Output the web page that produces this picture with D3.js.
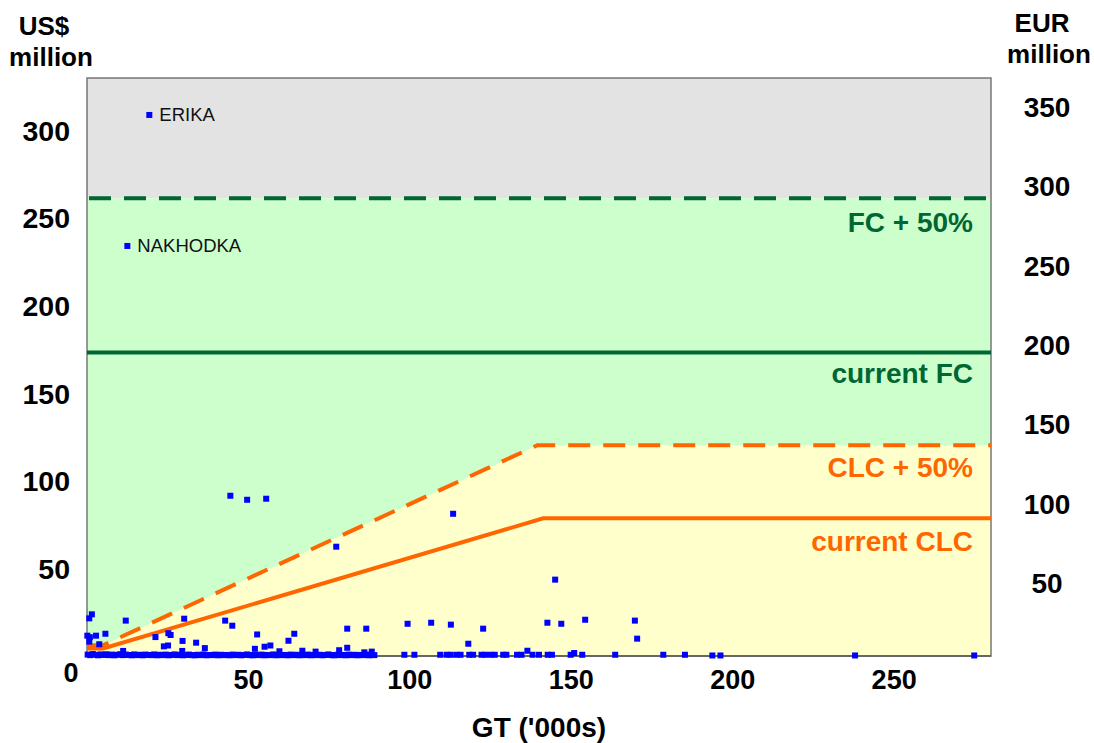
<!DOCTYPE html>
<html>
<head>
<meta charset="utf-8">
<script src="https://cdn.jsdelivr.net/npm/d3@7"></script>
<style>
  html, body { margin: 0; padding: 0; background: #ffffff; }
  svg text { font-family: "Liberation Sans", Arial, sans-serif; }
</style>
</head>
<body>
<svg id="chart" width="1094" height="743"></svg>
<script>
// ---------- DATA ----------
const xTicks = [50, 100, 150, 200, 250];
const usdTicks = [50, 100, 150, 200, 250, 300];
const eurTicks = [50, 100, 150, 200, 250, 300, 350];

// Limits (US$ million)
const fcCurrent = 173.3;
const fcPlus50 = 261.3;
// CLC limit curves: [GT '000s, US$ million]
const clcCurrent = [[0, 4.3], [5, 4.3], [141.3, 78.6], [280, 78.6]];
const clcPlus50 = [[0, 6.2], [5, 6.2], [139.5, 120.3], [280, 120.3]];

// Named incidents [GT '000s, US$ million, name]
const namedSpills = [[19.3, 308.9, "ERIKA"], [12.5, 234.1, "NAKHODKA"]];

// Other incidents [GT '000s, US$ million]
const otherSpills = [
  [0.7, 21.5], [1.5, 23.8], [12.0, 20.2], [30.1, 21.3], [42.8, 20.2], [45.0, 17.3],
  [0.1, 11.6], [0.9, 10.7], [2.8, 11.6], [5.7, 12.7], [0.7, 8.2], [3.8, 6.7],
  [21.2, 10.8], [25.2, 13.0], [25.9, 12.0], [23.8, 5.5], [25.1, 6.0], [29.6, 8.6],
  [33.8, 7.6], [36.5, 4.5], [11.2, 2.9], [29.5, 2.9], [52.7, 12.3], [52.0, 4.1],
  [55.0, 5.3], [56.8, 6.0], [62.4, 8.7], [64.2, 12.7], [80.6, 15.6], [86.5, 15.6],
  [80.6, 4.7], [99.3, 18.4], [106.6, 19.0], [112.7, 17.9], [122.7, 15.6], [142.6, 19.0],
  [146.9, 18.4], [154.3, 20.7], [169.7, 20.2], [170.4, 9.9], [118.1, 7.0],
  [44.4, 91.5], [49.6, 89.2], [55.5, 89.8], [77.2, 62.4], [113.4, 81.2], [145.0, 43.6],
  [66.7, 3.0], [70.8, 2.5], [78.1, 3.3], [85.9, 2.1], [88.2, 2.5], [59.6, 2.7],
  [136.4, 3.0], [150.9, 1.7],
  [98.3, 0.7], [101.4, 0.7], [109.4, 0.7], [111.4, 0.7], [112.6, 0.7], [114.4, 0.7],
  [115.7, 0.7], [118.4, 0.7], [119.6, 0.7], [122.2, 0.7], [123.3, 0.7], [125.0, 0.7],
  [126.3, 0.7], [128.9, 0.7], [129.9, 0.7], [133.2, 0.7], [134.6, 0.7], [138.0, 0.7],
  [140.0, 0.7], [142.7, 0.7], [144.0, 0.7], [149.8, 0.7], [153.4, 0.7], [163.6, 0.7],
  [178.5, 0.7], [185.2, 0.7], [193.7, 0.3], [196.2, 0.3], [237.9, 0.3], [274.8, 0.3]
];

// Dense cluster of small incidents along the bottom [GT '000s, US$ million]
const smallSpills = [[0.2,0.8],[1.0,0.5],[1.8,1.1],[2.6,0.7],[3.4,0.4],[4.3,0.9],[5.1,0.6],[6.0,1.0],[6.8,0.5],[7.7,0.8],[8.5,0.4],[9.4,0.7],[10.3,1.0],[11.1,0.5],[12.0,0.8],[12.9,0.6],[13.8,0.4],[14.6,0.9],[15.5,0.5],[16.4,0.7],[17.3,0.4],[18.1,0.8],[19.0,0.6],[19.9,0.5],[20.8,0.9],[21.7,0.4],[22.6,0.7],[23.5,0.5],[24.4,0.8],[25.3,0.4],[26.2,0.6],[27.1,0.9],[28.0,0.5],[28.9,0.7],[29.8,0.4],[30.7,0.6],[31.6,0.8],[32.5,0.5],[33.4,0.4],[34.3,0.7],[35.2,0.5],[36.1,0.9],[37.0,0.4],[37.9,0.6],[38.8,0.5],[39.7,0.8],[40.6,0.4],[41.5,0.7],[42.4,0.5],[43.3,0.6],[44.2,0.4],[45.1,0.8],[46.0,0.5],[46.9,0.7],[47.8,0.4],[48.7,0.6],[49.6,0.9],[50.5,0.5],[51.4,0.4],[52.3,0.7],[53.2,0.5],[54.1,0.8],[55.0,0.4],[55.9,0.6],[56.8,0.5],[57.7,0.9],[58.6,0.4],[59.5,0.7],[60.4,0.5],[61.3,0.6],[62.2,0.4],[63.1,0.8],[64.0,0.5],[64.9,0.7],[65.8,0.4],[66.7,0.6],[67.6,0.5],[68.5,0.8],[69.4,0.4],[70.3,0.6],[71.2,0.5],[72.1,0.7],[73.0,0.4],[73.9,0.6],[74.8,0.9],[75.7,0.5],[76.6,0.4],[77.5,0.7],[78.4,0.5],[79.3,0.6],[80.2,0.4],[81.1,0.8],[82.0,0.5],[82.9,0.7],[83.8,0.4],[84.7,0.6],[85.6,0.5],[86.5,0.8],[87.4,0.4],[88.3,0.6],[89.0,0.5]];

// ---------- LAYOUT ----------
const svg = d3.select("#chart");
const plot = { left: 87, right: 991, top: 78, bottom: 656 };
const x = d3.scaleLinear().domain([0, 280]).range([plot.left, plot.right]);
const y = d3.scaleLinear().domain([0, 330]).range([plot.bottom, plot.top]);
const yEur = d3.scaleLinear().domain([50, 350]).range([583, 107]);

const GRAY = "#e3e3e3", LGREEN = "#ccffcc", LYELLOW = "#ffffcc";
const DGREEN = "#006633", ORANGE = "#ff6600", BLUE = "#0000ff";
const W = plot.right - plot.left;

// backgrounds
svg.append("rect").attr("x", plot.left).attr("y", plot.top)
  .attr("width", W).attr("height", y(fcPlus50) - plot.top).attr("fill", GRAY);
svg.append("rect").attr("x", plot.left).attr("y", y(fcPlus50))
  .attr("width", W).attr("height", plot.bottom - y(fcPlus50)).attr("fill", LGREEN);
const area = d3.area().x(d => x(d[0])).y0(y(0)).y1(d => y(d[1]));
svg.append("path").datum(clcPlus50).attr("d", area).attr("fill", LYELLOW);

// frame
svg.append("rect").attr("x", plot.left).attr("y", plot.top)
  .attr("width", W).attr("height", plot.bottom - plot.top)
  .attr("fill", "none").attr("stroke", "#777").attr("stroke-width", 1.5);
svg.append("line").attr("x1", plot.left).attr("x2", plot.right)
  .attr("y1", plot.bottom).attr("y2", plot.bottom)
  .attr("stroke", "#666").attr("stroke-width", 2);

// limit lines
const line = d3.line().x(d => x(d[0])).y(d => y(d[1]));
svg.append("line").attr("x1", plot.left + 2).attr("x2", plot.right)
  .attr("y1", y(fcPlus50)).attr("y2", y(fcPlus50))
  .attr("stroke", DGREEN).attr("stroke-width", 4).attr("stroke-dasharray", "22,13");
svg.append("line").attr("x1", plot.left).attr("x2", plot.right)
  .attr("y1", y(fcCurrent)).attr("y2", y(fcCurrent))
  .attr("stroke", DGREEN).attr("stroke-width", 4);
svg.append("path").datum(clcPlus50).attr("d", line).attr("fill", "none")
  .attr("stroke", ORANGE).attr("stroke-width", 4).attr("stroke-dasharray", "22,13");
svg.append("path").datum(clcCurrent).attr("d", line).attr("fill", "none")
  .attr("stroke", ORANGE).attr("stroke-width", 4);

// line labels
const lineLabels = [
  ["FC + 50%", fcPlus50, DGREEN, 34],
  ["current FC", fcCurrent, DGREEN, 31],
  ["CLC + 50%", clcPlus50[3][1], ORANGE, 32],
  ["current CLC", clcCurrent[3][1], ORANGE, 33]
];
svg.selectAll("text.lineLabel").data(lineLabels).enter().append("text")
  .attr("class", "lineLabel")
  .attr("x", 973).attr("y", d => y(d[1]) + d[3])
  .attr("text-anchor", "end").attr("font-size", 28).attr("font-weight", "bold")
  .attr("fill", d => d[2]).text(d => d[0]);

// points
const S = 6;
const allPts = smallSpills.concat(otherSpills).concat(namedSpills.map(d => [d[0], d[1]]));
svg.selectAll("rect.pt").data(allPts).enter().append("rect")
  .attr("class", "pt")
  .attr("x", d => x(d[0]) - S / 2).attr("y", d => y(d[1]) - S / 2)
  .attr("width", S).attr("height", S).attr("fill", BLUE);
svg.selectAll("text.name").data(namedSpills).enter().append("text")
  .attr("class", "name")
  .attr("x", d => x(d[0]) + 10).attr("y", d => y(d[1]) + 6)
  .attr("font-size", 18.5).attr("fill", "#111").text(d => d[2]);

// x tick labels
svg.selectAll("text.xt").data(xTicks).enter().append("text")
  .attr("class", "xt").attr("x", d => x(d)).attr("y", 689)
  .attr("text-anchor", "middle").attr("font-size", 27).attr("font-weight", "bold")
  .text(d => d);
svg.append("text").attr("x", 71).attr("y", 682).attr("text-anchor", "middle")
  .attr("font-size", 27).attr("font-weight", "bold").text("0");

// left y tick labels
svg.selectAll("text.yt").data(usdTicks).enter().append("text")
  .attr("class", "yt").attr("x", 70).attr("y", d => y(d)).attr("dy", "0.36em")
  .attr("text-anchor", "end").attr("font-size", 28.5).attr("font-weight", "bold")
  .text(d => d);

// right EUR tick labels
svg.selectAll("text.et").data(eurTicks).enter().append("text")
  .attr("class", "et").attr("x", 1047).attr("y", d => yEur(d)).attr("dy", "0.36em")
  .attr("text-anchor", "middle").attr("font-size", 28).attr("font-weight", "bold")
  .text(d => d);

// axis titles
const titleL = svg.append("text").attr("text-anchor", "middle")
  .attr("font-size", 26).attr("font-weight", "bold");
titleL.append("tspan").attr("x", 44).attr("y", 35).text("US$");
titleL.append("tspan").attr("x", 51).attr("y", 66).text("million");
const titleR = svg.append("text").attr("text-anchor", "middle")
  .attr("font-size", 26).attr("font-weight", "bold");
titleR.append("tspan").attr("x", 1042).attr("y", 32).text("EUR");
titleR.append("tspan").attr("x", 1049).attr("y", 63).text("million");
svg.append("text").attr("x", 539).attr("y", 737).attr("text-anchor", "middle")
  .attr("font-size", 28).attr("font-weight", "bold").text("GT ('000s)");
</script>
</body>
</html>
